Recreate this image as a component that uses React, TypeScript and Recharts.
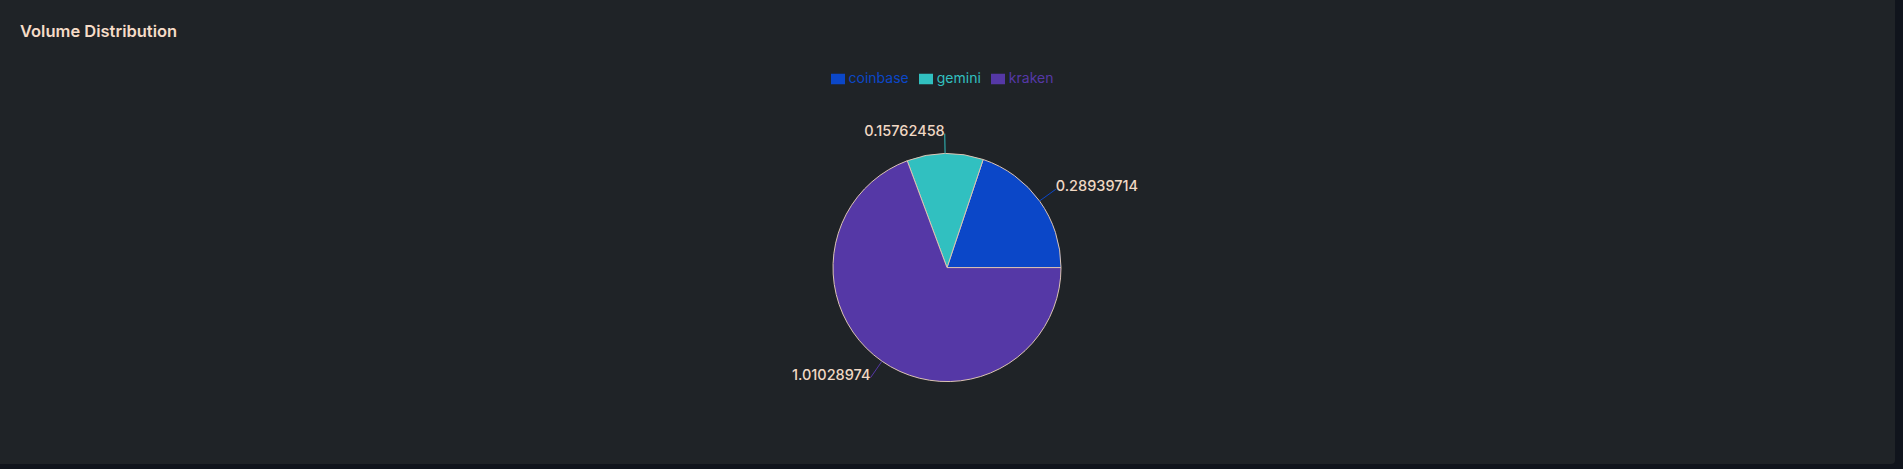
import React from "react";
import { PieChart, Pie, Cell, Legend } from "recharts";

const exchanges = ["coinbase", "gemini", "kraken"];
const volumes = [0.28939714, 0.15762458, 1.01028974];
const sliceColors = ["#0b47c8", "#31c0c0", "#5538a6"];

const data = exchanges.map((name, i) => ({ name, value: volumes[i] }));

const App = () => {
  return (
    <div
      style={{
        position: "fixed",
        top: 0,
        left: 0,
        width: 1903,
        height: 469,
        background: "#10141c",
        fontFamily: "Inter, 'Noto Sans', sans-serif",
      }}
    >
      <div
        style={{
          position: "absolute",
          top: 0,
          left: 0,
          width: 1895,
          height: 464,
          background: "#1f2327",
          borderBottomRightRadius: 4,
        }}
      >
        <div
          style={{
            position: "absolute",
            left: 20,
            top: 21,
            color: "#f5dcc8",
            fontSize: 16.5,
            fontWeight: 600,
          }}
        >
          Volume Distribution
        </div>
        <PieChart width={1894} height={454} margin={{ top: 69, right: 5, bottom: 5, left: 5 }}>
          <Legend verticalAlign="top" wrapperStyle={{ fontSize: 14 }} />
          <Pie
            data={data}
            dataKey="value"
            nameKey="name"
            cx="50%"
            cy="50%"
            outerRadius={114}
            stroke="#dcc4b4"
            strokeWidth={1}
            label={{ fill: "#f0d8c4", fontSize: 14.5, fontWeight: 500, dy: 2 }}
            isAnimationActive={false}
          >
            {data.map((d, i) => (
              <Cell key={d.name} fill={sliceColors[i]} />
            ))}
          </Pie>
        </PieChart>
      </div>
    </div>
  );
};

export default App;
